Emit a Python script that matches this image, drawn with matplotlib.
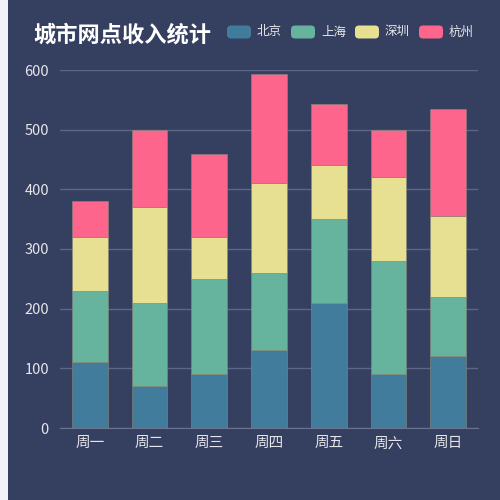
import matplotlib
matplotlib.use("Agg")
import matplotlib.pyplot as plt
from matplotlib.patches import Rectangle, FancyBboxPatch
import numpy as np

plt.rcParams['font.family'] = ['Noto Sans CJK SC', 'DejaVu Sans']

days = ['周一', '周二', '周三', '周四', '周五', '周六', '周日']
cities = ['北京', '上海', '深圳', '杭州']
beijing = [110, 70, 90, 130, 210, 90, 120]
shanghai = [120, 140, 160, 130, 140, 190, 100]
shenzhen = [90, 160, 70, 150, 90, 140, 135]
hangzhou = [60, 130, 140, 183, 103, 80, 180]
colors = ['#417c9c', '#66b39e', '#e7df91', '#fe658d']

bg = '#353f5f'
fig = plt.figure(figsize=(5, 5), dpi=100)
fig.patch.set_facecolor(bg)
# light strip at the left edge
fig.patches.append(Rectangle((0, 0), 8 / 500, 1, transform=fig.transFigure,
                             facecolor='#f1f3f8', edgecolor='none', zorder=0))

ax = fig.add_axes([60 / 500, 72 / 500, 418 / 500, 358 / 500])
ax.set_facecolor(bg)

x = np.arange(len(days))
bottom = np.zeros(len(days))
for vals, c in zip([beijing, shanghai, shenzhen, hangzhou], colors):
    ax.bar(x, vals, width=0.6, bottom=bottom, color=c,
           edgecolor='#8a8a7a', linewidth=0.4, zorder=3)
    bottom += np.array(vals)

ax.set_xlim(-0.5, 6.5)
ax.set_ylim(0, 600)
ax.set_yticks(range(0, 601, 100))
ax.set_xticks(x)
ax.set_xticklabels(days)
ax.grid(axis='y', color='#5d6686', linewidth=1, zorder=0)
for s in ['top', 'right', 'left']:
    ax.spines[s].set_visible(False)
ax.spines['bottom'].set_color('#6c7390')
ax.tick_params(axis='both', length=0, colors='#e6e6ea', labelsize=10.5)
ax.tick_params(axis='y', pad=8)
ax.tick_params(axis='x', pad=6)

fig.text(33 / 500, 1 - 35 / 500, '城市网点收入统计', color='white', fontsize=16,
         fontweight='bold', va='center', ha='left')

# legend
lx = [227, 291, 355, 419]
for name, c, px in zip(cities, colors, lx):
    fig.patches.append(FancyBboxPatch((px / 500, 1 - 38.5 / 500), 24 / 500, 13 / 500,
                                      boxstyle='round,pad=0,rounding_size=0.008',
                                      transform=fig.transFigure,
                                      facecolor=c, edgecolor='none'))
    fig.text((px + 30) / 500, 1 - 32 / 500, name, color='#e6e6ea', fontsize=9,
             va='center', ha='left')

fig.savefig('out.png', dpi=100, facecolor=bg)
